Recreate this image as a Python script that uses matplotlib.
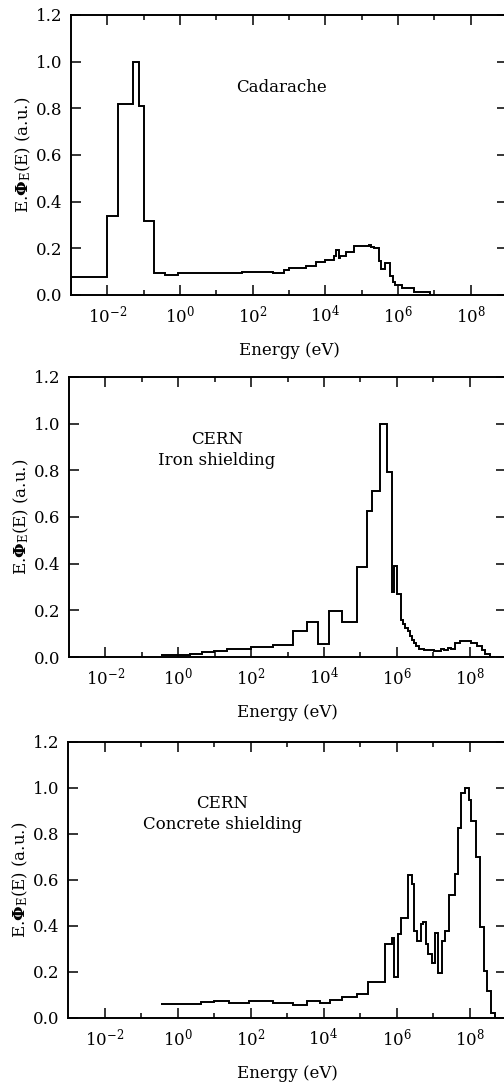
import numpy as np
import matplotlib
matplotlib.use("Agg")
import matplotlib.pyplot as plt
from matplotlib.ticker import FixedLocator, NullFormatter, FixedFormatter

plt.rcParams['font.family'] = ['DejaVu Serif']
plt.rcParams['mathtext.fontset'] = 'dejavuserif'

# ---- data (log10 of energy in eV for bin edges, E.Phi_E(E) in a.u.) ----
cad_log_edges = [-3.0, -2.0, -1.70, -1.29, -1.13, -1.0, -0.72, -0.41, -0.05, 1.70, 2.57, 2.85,
                 2.99, 3.48, 3.73, 4.0, 4.23, 4.29, 4.37, 4.41, 4.57, 4.78, 4.92, 5.19, 5.26,
                 5.33, 5.47, 5.54, 5.65, 5.79, 5.86, 5.93, 6.11, 6.43, 6.87]
cad_values = [0.075, 0.34, 0.82, 1.0, 0.81, 0.315, 0.094, 0.086, 0.094, 0.10, 0.094, 0.105,
              0.115, 0.125, 0.14, 0.148, 0.165, 0.194, 0.16, 0.165, 0.184, 0.208, 0.212, 0.216,
              0.205, 0.2, 0.144, 0.11, 0.136, 0.08, 0.057, 0.043, 0.029, 0.014]

iron_log_edges = [-0.47, 0.32, 0.65, 0.98, 1.35, 2.0, 2.6, 3.16, 3.54, 3.84, 4.14, 4.51, 4.9,
                  5.18, 5.32, 5.54, 5.73, 5.87, 5.93, 6.02, 6.12, 6.17, 6.24, 6.30, 6.36, 6.42,
                  6.47, 6.54, 6.61, 6.75, 7.03, 7.22, 7.31, 7.40, 7.49, 7.59, 7.73, 8.05, 8.19,
                  8.33, 8.42, 8.56, 8.70]
iron_values = [0.01, 0.012, 0.02, 0.027, 0.034, 0.044, 0.053, 0.113, 0.148, 0.057, 0.196, 0.148,
               0.384, 0.626, 0.71, 1.0, 0.794, 0.28, 0.389, 0.268, 0.16, 0.14, 0.123, 0.11, 0.09,
               0.072, 0.058, 0.046, 0.036, 0.03, 0.026, 0.033, 0.028, 0.04, 0.033, 0.058, 0.07,
               0.062, 0.046, 0.03, 0.012, 0.0]

conc_log_edges = [-0.44, 0.65, 1.01, 1.40, 1.96, 2.61, 3.17, 3.54, 3.91, 4.19, 4.51, 4.93, 5.21,
                  5.68, 5.87, 5.94, 6.05, 6.13, 6.31, 6.42, 6.47, 6.56, 6.66, 6.72, 6.80, 6.87,
                  6.96, 7.05, 7.14, 7.24, 7.34, 7.45, 7.59, 7.68, 7.77, 7.87, 7.98, 8.05, 8.18,
                  8.29, 8.40, 8.49, 8.58, 8.71, 8.94]
conc_values = [0.063, 0.068, 0.072, 0.065, 0.072, 0.065, 0.058, 0.073, 0.065, 0.08, 0.092, 0.106,
               0.156, 0.321, 0.346, 0.18, 0.365, 0.434, 0.62, 0.584, 0.38, 0.336, 0.409, 0.416,
               0.321, 0.277, 0.241, 0.369, 0.197, 0.336, 0.38, 0.533, 0.628, 0.828, 0.978, 1.0,
               0.949, 0.857, 0.70, 0.394, 0.204, 0.117, 0.022, 0.0]

panel_labels = ["Cadarache", "CERN\nIron shielding", "CERN\nConcrete shielding"]
major_decades = [-2, 0, 2, 4, 6, 8]
minor_decades = [-1, 1, 3, 5, 7]
y_ticks = [0.0, 0.2, 0.4, 0.6, 0.8, 1.0, 1.2]
y_ticklabels = ["0.0", "0.2", "0.4", "0.6", "0.8", "1.0", "1.2"]

W, H = 504, 1084
fig = plt.figure(figsize=(W / 100, H / 100), dpi=100)

# pixel boxes: (left, top, right, bottom)
boxes = [(71, 15, 507, 295), (69, 377, 506, 657), (68, 742, 506, 1018)]
series = [(cad_log_edges, cad_values, 0), (iron_log_edges, iron_values, None),
          (conc_log_edges, conc_values, None)]
text_pos = [(10 ** 2.8, 0.925), (10 ** 1.06, 0.968), (10 ** 1.22, 0.97)]

for i, ((l, t, r, b), (le, vals, base)) in enumerate(zip(boxes, series)):
    ax = fig.add_axes([l / W, 1 - b / H, (r - l) / W, (b - t) / H])
    edges = 10 ** np.array(le)
    ax.stairs(vals, edges, baseline=base, color='black', linewidth=1.4)
    ax.set_xscale('log')
    ax.set_xlim(1e-3, 1e9)
    ax.set_ylim(0, 1.2)
    ax.xaxis.set_major_locator(FixedLocator([10.0 ** d for d in major_decades]))
    ax.xaxis.set_major_formatter(FixedFormatter(
        [r'$\mathregular{10^{%d}}$' % d for d in major_decades]))
    ax.xaxis.set_minor_locator(FixedLocator([10.0 ** d for d in minor_decades]))
    ax.xaxis.set_minor_formatter(NullFormatter())
    ax.yaxis.set_major_locator(FixedLocator(y_ticks))
    ax.yaxis.set_major_formatter(FixedFormatter(y_ticklabels))
    ax.tick_params(axis='both', which='major', direction='in', length=7, width=1.1,
                   top=True, right=True, labelsize=12, pad=6)
    ax.tick_params(axis='x', which='major', pad=7)
    ax.tick_params(axis='both', which='minor', direction='in', length=3.5, width=1.1,
                   top=True, right=True)
    for s in ax.spines.values():
        s.set_linewidth(1.4)
    ax.set_ylabel(r'E.$\mathbf{\Phi}_{\mathregular{E}}$(E) (a.u.)', fontsize=12, labelpad=2)
    ax.set_xlabel('Energy (eV)', fontsize=12, labelpad=11)
    ax.text(text_pos[i][0], text_pos[i][1], panel_labels[i], ha='center', va='top',
            fontsize=12, linespacing=1.3)

fig.savefig('out.png', dpi=100)
